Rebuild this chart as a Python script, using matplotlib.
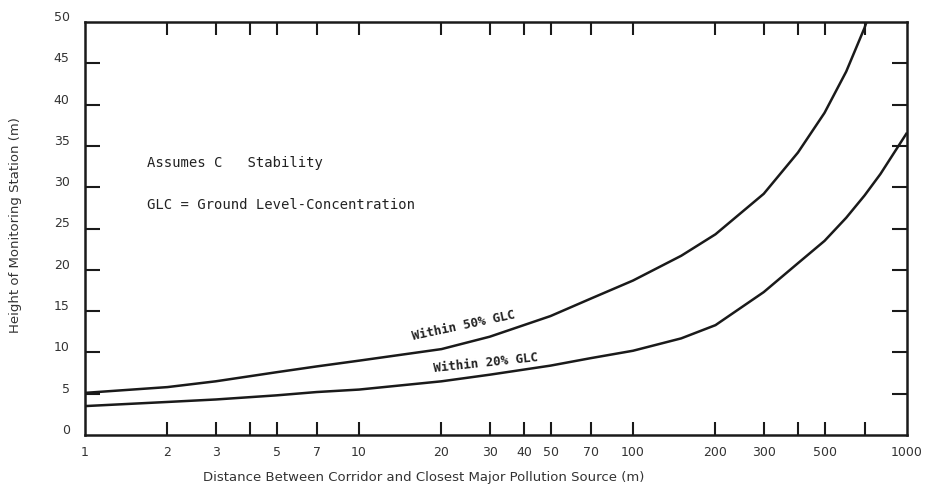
import matplotlib
matplotlib.use("Agg")
import matplotlib.pyplot as plt
import matplotlib.transforms as mtransforms
from matplotlib.ticker import FixedLocator, FixedFormatter, NullFormatter

# ---- data ----
dist_50 = [1, 2, 3, 5, 7, 10, 20, 30, 50, 70, 100, 150, 200, 300, 400, 500, 600, 700, 720]
height_50 = [5.1, 5.8, 6.5, 7.6, 8.3, 9.0, 10.4, 11.9, 14.4, 16.5, 18.7, 21.7, 24.3, 29.2, 34.2, 39.0, 44.0, 49.3, 50.5]

dist_20 = [1, 2, 3, 5, 7, 10, 20, 30, 50, 70, 100, 150, 200, 300, 400, 500, 600, 700, 800, 1000]
height_20 = [3.5, 4.0, 4.3, 4.8, 5.2, 5.5, 6.5, 7.3, 8.4, 9.3, 10.2, 11.7, 13.3, 17.3, 20.8, 23.5, 26.3, 29.0, 31.6, 36.6]

x_label_ticks = [1, 2, 3, 5, 7, 10, 20, 30, 40, 50, 70, 100, 200, 300, 500, 1000]
x_mark_ticks = [2, 3, 4, 5, 7, 10, 20, 30, 40, 50, 70, 100, 200, 300, 400, 500, 700]
y_label_ticks = [0, 5, 10, 15, 20, 25, 30, 35, 40, 45, 50]
y_mark_ticks = [5, 10, 15, 20, 25, 30, 35, 40, 45]

label_50 = "Within 50% GLC"
label_20 = "Within 20% GLC"
note_1 = "Assumes C   Stability"
note_2 = "GLC = Ground Level-Concentration"
xlabel = "Distance Between Corridor and Closest Major Pollution Source (m)"
ylabel = "Height of Monitoring Station (m)"

# ---- figure ----
fig = plt.figure(figsize=(9.37, 4.89), dpi=100)
ax = fig.add_axes([85/937, 53/489, 822/937, 413/489])

ax.plot(dist_50, height_50, color="#1a1a1a", lw=1.8, solid_capstyle="butt")
ax.plot(dist_20, height_20, color="#1a1a1a", lw=1.8, solid_capstyle="butt")

ax.set_xscale("log")
ax.set_xlim(1, 1000)
ax.set_ylim(0, 50)

for s in ax.spines.values():
    s.set_linewidth(1.8)
    s.set_color("#1a1a1a")

ax.xaxis.remove_overlapping_locs = False
ax.yaxis.remove_overlapping_locs = False

# x ticks
ax.xaxis.set_major_locator(FixedLocator(x_label_ticks))
ax.xaxis.set_major_formatter(FixedFormatter([str(v) for v in x_label_ticks]))
ax.xaxis.set_minor_locator(FixedLocator(x_mark_ticks))
ax.xaxis.set_minor_formatter(NullFormatter())
ax.tick_params(axis="x", which="major", length=0, pad=7, labelsize=9, labelcolor="#333333")
ax.tick_params(axis="x", which="minor", direction="in", length=9.5, width=1.5,
               top=True, bottom=True, color="#1a1a1a")

# y ticks
ax.yaxis.set_major_locator(FixedLocator(y_label_ticks))
ax.yaxis.set_major_formatter(FixedFormatter([str(v) for v in y_label_ticks]))
ax.yaxis.set_minor_locator(FixedLocator(y_mark_ticks))
ax.yaxis.set_minor_formatter(NullFormatter())
ax.tick_params(axis="y", which="major", length=0, pad=11, labelsize=9, labelcolor="#333333")
ax.tick_params(axis="y", which="minor", direction="in", length=11, width=1.5,
               left=True, right=True, color="#1a1a1a")

for lab in ax.get_xticklabels():
    lab.set_fontfamily("DejaVu Sans")
off = mtransforms.ScaledTranslation(0, 7/100, fig.dpi_scale_trans)
for lab in ax.get_yticklabels():
    lab.set_fontfamily("DejaVu Sans")
    lab.set_transform(lab.get_transform() + off)

ax.set_xlabel(xlabel, fontsize=9.5, color="#333333")
ax.xaxis.set_label_coords(0.412, -0.085)
ax.set_ylabel(ylabel, fontsize=9.5, color="#333333")
ax.yaxis.set_label_coords(-0.077, 0.511)

# annotations
ax.text(62/822, 1 - (163 - 23)/413, note_1, transform=ax.transAxes,
        family="DejaVu Sans Mono", fontsize=10, color="#222222", va="center", ha="left")
ax.text(62/822, 1 - (205 - 23)/413, note_2, transform=ax.transAxes,
        family="DejaVu Sans Mono", fontsize=10, color="#222222", va="center", ha="left")

ax.text(24, 13.4, label_50, family="DejaVu Sans Mono", fontsize=9, fontweight="bold",
        color="#222222", rotation=12, ha="center", va="center")
ax.text(29, 8.8, label_20, family="DejaVu Sans Mono", fontsize=9, fontweight="bold",
        color="#222222", rotation=6, ha="center", va="center")

fig.savefig("out.png", dpi=100, facecolor="white")
